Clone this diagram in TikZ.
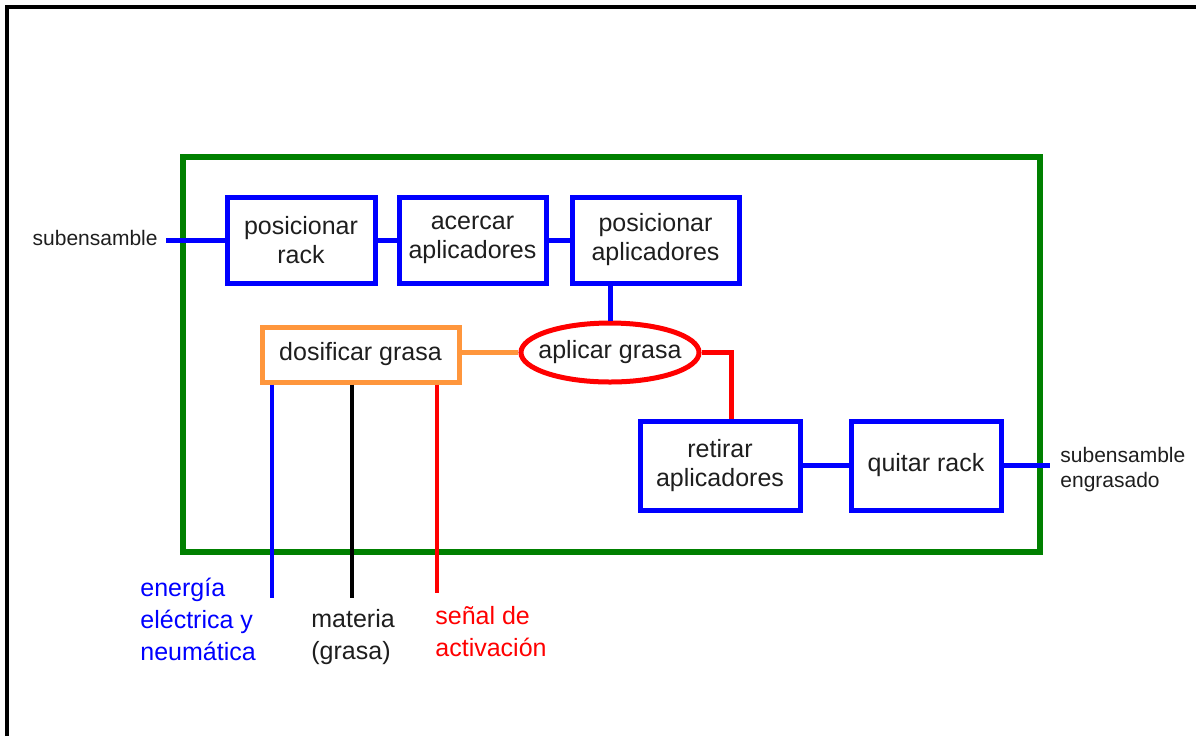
\documentclass[tikz,border=0pt]{standalone}
\usepackage{fontspec}
\setmainfont{Liberation Sans}
\usetikzlibrary{shapes.geometric}
\definecolor{verde}{RGB}{0,128,0}
\definecolor{naranja}{RGB}{255,150,60}
\definecolor{texto}{RGB}{30,30,30}
\tikzset{
  caja/.style={draw=blue, line width=2.5pt, align=center, inner sep=0pt, text=texto,
    font=\fontsize{12.5}{14.5}\selectfont},
  enlace/.style={line width=2.5pt},
  rotulo/.style={align=left, inner sep=0pt, font=\fontsize{12.5}{16}\selectfont},
  chico/.style={align=left, inner sep=0pt, text=texto, font=\fontsize{10.5}{12.5}\selectfont}
}
\begin{document}
\begin{tikzpicture}[x=0.5pt, y=-0.5pt, line join=miter, line cap=butt]
	\useasboundingbox (0,0) rectangle (1196,736);
	% marco exterior y limite del sistema
	\draw[line width=2pt] (7,736)--(7,7)--(1196,7);
	\draw[verde, line width=3pt] (183,157) rectangle (1040,552);
	% funciones
	\node[caja, minimum width=74pt, minimum height=43pt] (posrack) at (301,240) {posicionar\\rack};
	\node[caja, minimum width=73.5pt, minimum height=43pt] (acercar) at (472.5,240) {acercar\\aplicadores};
	\node[caja, minimum width=83.5pt, minimum height=43pt] (posapl) at (655.5,240) {posicionar\\aplicadores};
	\node[caja, draw=naranja, minimum width=98.5pt, minimum height=27.5pt] (dosif) at (360.5,354.5) {dosificar grasa};
	\node[caja, draw=red, ellipse, inner xsep=-4.3pt, minimum height=29.5pt] (aplicar) at (610,352.5) {aplicar grasa};
	\node[caja, minimum width=80pt, minimum height=44.5pt] (retirar) at (720,465.5) {retirar\\aplicadores};
	\node[caja, minimum width=75pt, minimum height=44.5pt] (quitar) at (926,465.5) {quitar rack};
	% entradas y salidas
	\path	(166,240) coordinate (inL)
		(1050,465.5) coordinate (outR)
		(272,598) coordinate (energia)
		(352,598) coordinate (materia)
		(437,593) coordinate (senal);
	\node[chico, anchor=east] (tin) at (158,238) {subensamble};
	\node[chico, anchor=west] (tout) at (1060,470) {subensamble\\engrasado};
	\node[rotulo, text=blue, anchor=north west] (tenergia) at (140,578) {energía\\eléctrica y\\neumática};
	\node[rotulo, text=texto, anchor=north west] (tmateria) at (311,609) {materia\\(grasa)};
	\node[rotulo, text=red, anchor=north west] (tsenal) at (435,606) {señal de\\activación};
	% flujo principal
	\draw[enlace, blue] (inL)--(posrack.west);
	\draw[enlace, blue] (posrack.east)--(acercar.west);
	\draw[enlace, blue] (acercar.east)--(acercar.east -| posapl.west);
	\draw[enlace, blue] (aplicar.north)--(aplicar.north |- posapl.south);
	\draw[enlace, naranja] (aplicar.west)--(aplicar.west -| dosif.east);
	\draw[enlace, red] (aplicar.east) -| ([xshift=5.5pt]retirar.north);
	\draw[enlace, blue] (retirar.east)--(quitar.west);
	\draw[enlace, blue] (quitar.east)--(outR);
	% alimentaciones de dosificar grasa
	\foreach \c/\k in {energia/blue, materia/black, senal/red}
		\draw[line width=2pt, \k] (\c |- dosif.south)--(\c);
\end{tikzpicture}
\end{document}
